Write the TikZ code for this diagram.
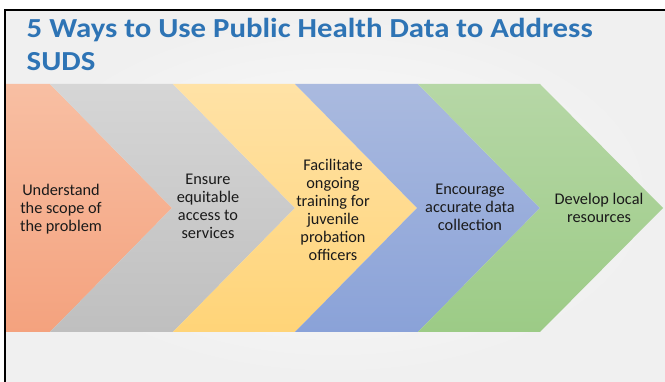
\documentclass[tikz,border=0pt]{standalone}
\usepackage{fontspec}
\setmainfont{Carlito}
\definecolor{titleblue}{HTML}{2E74B5}
\definecolor{txt}{HTML}{1A1A1A}
\definecolor{orT}{HTML}{F8BFA3}\definecolor{orB}{HTML}{F4A27E}
\definecolor{grT}{HTML}{D6D6D6}\definecolor{grB}{HTML}{BFBFBF}
\definecolor{yeT}{HTML}{FFE2A6}\definecolor{yeB}{HTML}{FFD478}
\definecolor{blT}{HTML}{AABADF}\definecolor{blB}{HTML}{8AA2D8}
\definecolor{gnT}{HTML}{B6D7A6}\definecolor{gnB}{HTML}{9CCB86}
\tikzset{
  chev/.style={draw=none},
  lbl/.style={align=center, text=txt, font=\fontsize{16.3}{18}\selectfont, inner sep=0pt},
  ttl/.style={anchor=base west, inner sep=0pt, text=titleblue,
              font=\fontsize{27.5}{33}\selectfont\bfseries, xscale=1.12},
}
\begin{document}
\begin{tikzpicture}[x=1pt,y=-1pt]
\useasboundingbox (0,0) rectangle (665,382);
\fill[white] (0,0) rectangle (665,382);
\shade[inner color=white!70!gray!8, outer color=gray!12] (5,10) rectangle (665,382);
\draw[black, line width=2pt] (5,382) -- (5,10) -- (665,10);
% chevrons
\shade[chev, top color=orT, bottom color=orB] (6,84) -- (50,84) -- (172,208) -- (50,332) -- (6,332) -- cycle;
\shade[chev, top color=grT, bottom color=grB] (50,84) -- (173,84) -- (295,208) -- (173,332) -- (50,332) -- (172,208) -- cycle;
\shade[chev, top color=yeT, bottom color=yeB] (173,84) -- (295,84) -- (417,208) -- (295,332) -- (173,332) -- (295,208) -- cycle;
\shade[chev, top color=blT, bottom color=blB] (295,84) -- (418,84) -- (540,208) -- (418,332) -- (295,332) -- (417,208) -- cycle;
\shade[chev, top color=gnT, bottom color=gnB] (418,84) -- (540,84) -- (663,208) -- (540,332) -- (418,332) -- (540,208) -- cycle;
% title
\node[ttl] (title1) at (26.5,37.3) {5 Ways to Use Public Health Data to Address};
\node[ttl] (title2) at (26.5,70.7) {SUDS};
% labels
\node[lbl] (s1) at (61,209) {Understand\\the scope of\\the problem};
\node[lbl] (s2) at (208,206) {Ensure\\equitable\\access to\\services};
\node[lbl] (s3) at (333,210) {Facilitate\\ongoing\\training for\\juvenile\\probation\\officers};
\node[lbl] (s4) at (470,207) {Encourage\\accurate data\\collection};
\node[lbl] (s5) at (599,208) {Develop local\\resources};
\end{tikzpicture}
\end{document}
